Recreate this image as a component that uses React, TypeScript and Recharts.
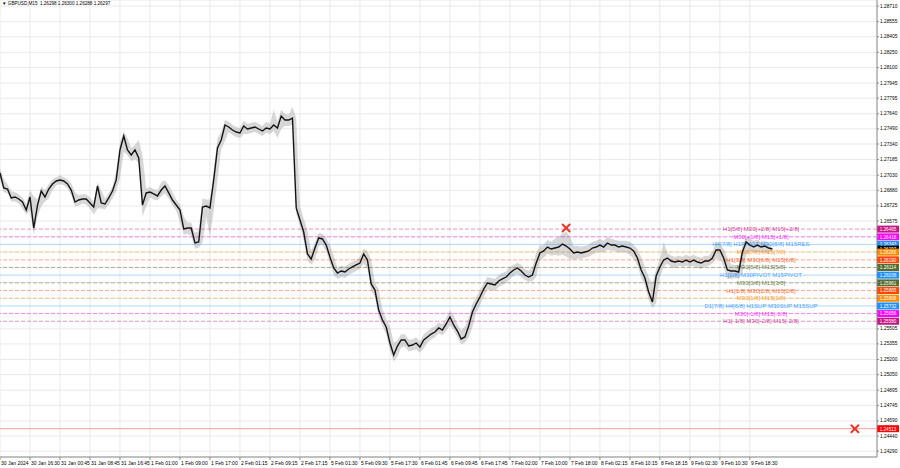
import React from 'react';
import { ComposedChart, Line, Area, XAxis, YAxis, CartesianGrid, ReferenceLine, ReferenceDot } from 'recharts';

const closes = [
  1.27052, 1.26903, 1.26893, 1.26804, 1.26814, 1.26794, 1.26764, 1.26685, 1.26814, 1.26506,
  1.26734, 1.26873, 1.26814, 1.26893, 1.26943, 1.26973, 1.26983, 1.26973, 1.26943, 1.26883,
  1.26764, 1.26784, 1.26794, 1.26794, 1.26754, 1.26715, 1.26923, 1.26754, 1.26744, 1.26804,
  1.26873, 1.26983, 1.27281, 1.27420, 1.27281, 1.27231, 1.27281, 1.27201, 1.26734, 1.26854,
  1.26863, 1.26844, 1.26824, 1.26883, 1.26923, 1.26854, 1.26784, 1.26734, 1.26685, 1.26496,
  1.26506, 1.26506, 1.26357, 1.26367, 1.26715, 1.26724, 1.26705, 1.26983, 1.27300, 1.27380,
  1.27529, 1.27509, 1.27479, 1.27459, 1.27449, 1.27519, 1.27489, 1.27499, 1.27509, 1.27489,
  1.27469, 1.27499, 1.27489, 1.27529, 1.27499, 1.27618, 1.27578, 1.27578, 1.27598, 1.26705,
  1.26585, 1.26466, 1.26248, 1.26198, 1.26307, 1.26407, 1.26397, 1.26337, 1.26218, 1.26109,
  1.26059, 1.26079, 1.26069, 1.26099, 1.26119, 1.26139, 1.26158, 1.26248, 1.26188, 1.25950,
  1.25890, 1.25692, 1.25592, 1.25523, 1.25364, 1.25245, 1.25334, 1.25394, 1.25394, 1.25334,
  1.25344, 1.25364, 1.25324, 1.25394, 1.25424, 1.25453, 1.25473, 1.25513, 1.25493, 1.25553,
  1.25622, 1.25543, 1.25483, 1.25404, 1.25424, 1.25533, 1.25672, 1.25751, 1.25821, 1.25900,
  1.25960, 1.25950, 1.25940, 1.25980, 1.26000, 1.26019, 1.26059, 1.26089, 1.26109, 1.26079,
  1.26039, 1.26019, 1.26039, 1.26158, 1.26258, 1.26278, 1.26317, 1.26297, 1.26307, 1.26317,
  1.26347, 1.26327, 1.26297, 1.26258, 1.26268, 1.26258, 1.26268, 1.26278, 1.26307, 1.26317,
  1.26337, 1.26317, 1.26357, 1.26337, 1.26337, 1.26317, 1.26327, 1.26317, 1.26307, 1.26278,
  1.26208, 1.26089, 1.26009, 1.25870, 1.25771, 1.26029, 1.26119, 1.26188, 1.26208, 1.26178,
  1.26168, 1.26178, 1.26168, 1.26188, 1.26168, 1.26188, 1.26168, 1.26158, 1.26178, 1.26178,
  1.26208, 1.26288, 1.26288, 1.26208, 1.26089, 1.26079, 1.26079, 1.26069, 1.26268, 1.26367,
  1.26337, 1.26317, 1.26337, 1.26317, 1.26327, 1.26307, 1.26297,
];

const highs = [
  1.27100, 1.26990, 1.26940, 1.26870, 1.26860, 1.26840, 1.26810, 1.26740, 1.26880, 1.26820,
  1.26790, 1.26920, 1.26880, 1.26940, 1.26990, 1.27010, 1.27030, 1.27010, 1.26990, 1.26950,
  1.26860, 1.26830, 1.26840, 1.26840, 1.26810, 1.26770, 1.26960, 1.26880, 1.26800, 1.26850,
  1.26920, 1.27080, 1.27360, 1.27460, 1.27400, 1.27300, 1.27330, 1.27380, 1.27230, 1.26900,
  1.26910, 1.26890, 1.26880, 1.26960, 1.26980, 1.26930, 1.26860, 1.26790, 1.26740, 1.26620,
  1.26560, 1.26560, 1.26460, 1.26480, 1.26800, 1.26790, 1.26790, 1.27080, 1.27400, 1.27460,
  1.27580, 1.27560, 1.27530, 1.27510, 1.27500, 1.27570, 1.27540, 1.27550, 1.27560, 1.27540,
  1.27520, 1.27560, 1.27540, 1.27680, 1.27560, 1.27680, 1.27640, 1.27630, 1.27710, 1.27600,
  1.26720, 1.26600, 1.26480, 1.26280, 1.26360, 1.26460, 1.26450, 1.26410, 1.26340, 1.26230,
  1.26110, 1.26130, 1.26120, 1.26150, 1.26170, 1.26190, 1.26220, 1.26300, 1.26280, 1.26190,
  1.25960, 1.25900, 1.25700, 1.25600, 1.25530, 1.25370, 1.25390, 1.25450, 1.25450, 1.25400,
  1.25400, 1.25420, 1.25380, 1.25450, 1.25480, 1.25510, 1.25530, 1.25570, 1.25550, 1.25610,
  1.25690, 1.25640, 1.25550, 1.25490, 1.25530, 1.25620, 1.25750, 1.25820, 1.25890, 1.25960,
  1.26020, 1.26010, 1.26000, 1.26040, 1.26060, 1.26080, 1.26120, 1.26140, 1.26160, 1.26140,
  1.26100, 1.26080, 1.26120, 1.26260, 1.26330, 1.26340, 1.26390, 1.26370, 1.26400, 1.26420,
  1.26450, 1.26470, 1.26420, 1.26330, 1.26330, 1.26320, 1.26330, 1.26340, 1.26370, 1.26380,
  1.26400, 1.26380, 1.26420, 1.26400, 1.26390, 1.26380, 1.26380, 1.26380, 1.26370, 1.26340,
  1.26300, 1.26220, 1.26120, 1.26020, 1.25950, 1.26100, 1.26200, 1.26370, 1.26260, 1.26230,
  1.26220, 1.26230, 1.26220, 1.26240, 1.26220, 1.26240, 1.26220, 1.26210, 1.26230, 1.26230,
  1.26270, 1.26370, 1.26340, 1.26300, 1.26210, 1.26140, 1.26140, 1.26130, 1.26330, 1.26420,
  1.26400, 1.26380, 1.26390, 1.26370, 1.26380, 1.26360, 1.26300,
];

const lows = [
  1.26990, 1.26860, 1.26850, 1.26770, 1.26770, 1.26750, 1.26700, 1.26640, 1.26680, 1.26440,
  1.26620, 1.26720, 1.26770, 1.26800, 1.26880, 1.26930, 1.26940, 1.26930, 1.26900, 1.26830,
  1.26720, 1.26730, 1.26750, 1.26740, 1.26700, 1.26640, 1.26700, 1.26700, 1.26690, 1.26740,
  1.26800, 1.26870, 1.27000, 1.27260, 1.27230, 1.27170, 1.27190, 1.27150, 1.26620, 1.26720,
  1.26810, 1.26790, 1.26780, 1.26820, 1.26850, 1.26800, 1.26730, 1.26680, 1.26560, 1.26440,
  1.26450, 1.26430, 1.26300, 1.26310, 1.26360, 1.26620, 1.26420, 1.26680, 1.26980, 1.27290,
  1.27370, 1.27460, 1.27430, 1.27410, 1.27400, 1.27440, 1.27440, 1.27450, 1.27460, 1.27440,
  1.27420, 1.27450, 1.27440, 1.27470, 1.27400, 1.27490, 1.27520, 1.27520, 1.27530, 1.26650,
  1.26530, 1.26380, 1.26180, 1.26140, 1.26190, 1.26330, 1.26340, 1.26270, 1.26160, 1.26040,
  1.26000, 1.26020, 1.26010, 1.26040, 1.26060, 1.26080, 1.26100, 1.26150, 1.26100, 1.25880,
  1.25820, 1.25620, 1.25530, 1.25450, 1.25290, 1.25180, 1.25230, 1.25320, 1.25330, 1.25280,
  1.25290, 1.25300, 1.25270, 1.25310, 1.25370, 1.25400, 1.25420, 1.25460, 1.25440, 1.25480,
  1.25540, 1.25490, 1.25420, 1.25350, 1.25370, 1.25420, 1.25520, 1.25660, 1.25740, 1.25820,
  1.25890, 1.25890, 1.25880, 1.25920, 1.25940, 1.25960, 1.26000, 1.26030, 1.26050, 1.26020,
  1.25990, 1.25970, 1.25980, 1.26020, 1.26180, 1.26210, 1.26250, 1.26230, 1.26240, 1.26230,
  1.26240, 1.26220, 1.26200, 1.26190, 1.26200, 1.26200, 1.26210, 1.26220, 1.26240, 1.26260,
  1.26270, 1.26260, 1.26290, 1.26280, 1.26280, 1.26260, 1.26270, 1.26260, 1.26240, 1.26200,
  1.26130, 1.26010, 1.25930, 1.25790, 1.25710, 1.25760, 1.26020, 1.26120, 1.26150, 1.26120,
  1.26110, 1.26130, 1.26120, 1.26130, 1.26120, 1.26130, 1.26110, 1.26100, 1.26120, 1.26130,
  1.26150, 1.26200, 1.26200, 1.26120, 1.26000, 1.26000, 1.26010, 1.26000, 1.26060, 1.26240,
  1.26280, 1.26260, 1.26270, 1.26260, 1.26270, 1.26250, 1.26288,
];

const timeLabels = [
  '30 Jan 2024', '30 Jan 16:30', '31 Jan 00:45', '31 Jan 08:45', '31 Jan 16:45',
  '1 Feb 01:00', '1 Feb 09:00', '1 Feb 17:00', '2 Feb 01:15', '2 Feb 09:15',
  '2 Feb 17:15', '5 Feb 01:30', '5 Feb 09:30', '5 Feb 17:30', '6 Feb 01:45',
  '6 Feb 09:45', '6 Feb 17:45', '7 Feb 02:00', '7 Feb 10:00', '7 Feb 18:00',
  '8 Feb 02:15', '8 Feb 10:15', '8 Feb 18:15', '9 Feb 02:30', '9 Feb 10:30',
  '9 Feb 18:30',
];
const hoursPerLabel = 8;

const priceTicks = [
  1.28710, 1.28555, 1.28405, 1.28250, 1.28100, 1.27945, 1.27795, 1.27640, 1.27490, 1.27340,
  1.27185, 1.27030, 1.26880, 1.26725, 1.26575, 1.26420, 1.26270, 1.26115, 1.25965, 1.25810,
  1.25660, 1.25505, 1.25355, 1.25200, 1.25050, 1.24895, 1.24745, 1.24590, 1.24440, 1.24290,
];

const levelPrices = [
  1.26495, 1.26418, 1.26343, 1.26266, 1.26190, 1.26114, 1.26038,
  1.25961, 1.25885, 1.25808, 1.25732, 1.25656, 1.25580,
];
const levelTexts = [
  'H1[5/8] M30[+2/8] M15[+2/8]',
  'M30[+1/8] M15[+1/8]',
  'H4[7/8] H1PIVOT M30[8/8] M15RES',
  'M30[7/8] M15[7/8]',
  'H1[3/8] M30[6/8] M15[6/8]',
  'M30[5/8] M15[5/8]',
  'H1[2/8] M30PIVOT M15PIVOT',
  'M30[3/8] M15[3/8]',
  'H1[1/8] M30[2/8] M15[2/8]',
  'M30[1/8] M15[1/8]',
  'D1[7/8] H4[6/8] H1SUP M30SUP M15SUP',
  'M30[-1/8] M15[-1/8]',
  'H1[-1/8] M30[-2/8] M15[-2/8]',
];
const bidPrice = 1.26297;
const alertPrice = 1.24513;

const markerHours = [151, 228];
const markerPrices = [1.26506, 1.24513];

// styles
const levelColors = [
  '#c71585', '#ff00ff', '#1e90ff', '#ff8c00', '#ff4500', '#556b2f', '#1e90ff',
  '#556b2f', '#ff4500', '#ff8c00', '#1e90ff', '#ff00ff', '#c71585',
];
const FONT = '"Liberation Sans", Arial, sans-serif';
const W = 900;
const H = 468;
const AXIS_W = 23;
const LABEL_CX = 761;

const data = closes.map((c, i) => ({ hour: i, close: c, high: highs[i], low: lows[i] }));
const xTicks = timeLabels.map((_, k) => k * hoursPerLabel);

const Tag = ({ x, y, text, fill }: { x: number; y: number; text: string; fill: string }) => (
  <g>
    <rect x={x} y={y - 3.5} width={AXIS_W - 1} height={7} fill={fill} />
    <text x={x + (AXIS_W - 1) / 2} y={y + 0.3} fill="#fff" fontSize={4.6} fontFamily={FONT}
      textAnchor="middle" dominantBaseline="central">{text}</text>
  </g>
);

const YTick = (props: any) => {
  const { x, y, payload } = props;
  const v = payload.value;
  if (v > 1.2555 && v < 1.2652) return null;
  return (
    <text x={x} y={y} fontSize={4.8} fontFamily={FONT} fill="#000" textAnchor="start" dominantBaseline="central">
      {v.toFixed(5)}
    </text>
  );
};

const XTick = (props: any) => {
  const { x, y, payload } = props;
  const idx = Math.round(payload.value / hoursPerLabel);
  return (
    <text x={x + 1} y={y + 4} fontSize={5} fontFamily={FONT} fill="#000" textAnchor="start">
      {timeLabels[idx]}
    </text>
  );
};

const Cross = (props: any) => {
  const { cx, cy } = props;
  if (cx == null || cy == null) return null;
  const s = 3.5;
  return (
    <g stroke="#e8362a" strokeWidth={2} strokeLinecap="round">
      <line x1={cx - s} y1={cy - s} x2={cx + s} y2={cy + s} />
      <line x1={cx - s} y1={cy + s} x2={cx + s} y2={cy - s} />
    </g>
  );
};

const levelLine = (k: number) => {
  const color = levelColors[k];
  const solid = color === '#1e90ff';
  return (
    <ReferenceLine
      key={'lvl' + k}
      y={levelPrices[k]}
      stroke={color}
      strokeOpacity={solid ? 0.35 : 0.45}
      strokeDasharray={solid ? undefined : '4 2'}
      label={(p: any) => {
        const vb = p.viewBox;
        return (
          <g>
            <text x={LABEL_CX} y={vb.y} fill={color} fillOpacity={0.85} fontSize={6} fontFamily={FONT}
              textAnchor="middle" dominantBaseline="central">{levelTexts[k]}</text>
            <Tag x={vb.x + vb.width} y={vb.y} text={levelPrices[k].toFixed(5)} fill={color} />
          </g>
        );
      }}
    />
  );
};

export default function App() {
  return (
    <div style={{ position: 'absolute', left: 0, top: 0, width: W, height: H, background: '#fff' }}>
      <ComposedChart width={W} height={H} data={data} margin={{ top: 0, right: 0, bottom: 0, left: 0 }}>
        <CartesianGrid stroke="#e9e9e9" />
        <XAxis
          dataKey="hour"
          type="number"
          domain={[0, 233.9]}
          ticks={xTicks}
          interval={0}
          allowDataOverflow
          height={11}
          tickSize={3}
          tickMargin={1}
          tick={<XTick />}
          stroke="#8c8c8c"
          tickLine={{ stroke: '#8c8c8c' }}
        />
        <YAxis
          orientation="right"
          type="number"
          domain={[1.24232, 1.2877]}
          ticks={priceTicks}
          interval={0}
          allowDataOverflow
          width={AXIS_W}
          tickSize={2}
          tickMargin={1}
          tick={<YTick />}
          stroke="#8c8c8c"
          tickLine={{ stroke: '#8c8c8c' }}
        />
        {[0, 1, 2].map(levelLine)}
        <ReferenceLine
          y={bidPrice}
          stroke="none"
          label={(p: any) => (
            <Tag x={p.viewBox.x + p.viewBox.width} y={p.viewBox.y} text={bidPrice.toFixed(5)} fill="#000" />
          )}
        />
        {[3, 4, 5, 6, 7, 8, 9, 10, 11, 12].map(levelLine)}
        <ReferenceLine
          y={alertPrice}
          stroke="#f2a19a"
          label={(p: any) => (
            <Tag x={p.viewBox.x + p.viewBox.width} y={p.viewBox.y} text={alertPrice.toFixed(5)} fill="#ff0000" />
          )}
        />
        <Area
          dataKey={(d: any) => [d.low, d.high]}
          type="linear"
          stroke="none"
          fill="#8c8c8c"
          fillOpacity={0.35}
          dot={false}
          activeDot={false}
          isAnimationActive={false}
        />
        <Line
          dataKey="close"
          type="linear"
          stroke="#141414"
          strokeWidth={1.4}
          dot={false}
          activeDot={false}
          isAnimationActive={false}
        />
        {markerHours.map((h, k) => (
          <ReferenceDot key={'mk' + k} x={h} y={markerPrices[k]} shape={<Cross />} ifOverflow="visible" />
        ))}
      </ComposedChart>
      <div style={{ position: 'absolute', left: 2, top: 1, fontSize: 4.6, fontFamily: FONT, color: '#000', whiteSpace: 'pre' }}>
        {'▼ GBPUSD,M15  1.26298 1.26300 1.26288 1.26297'}
      </div>
    </div>
  );
}
